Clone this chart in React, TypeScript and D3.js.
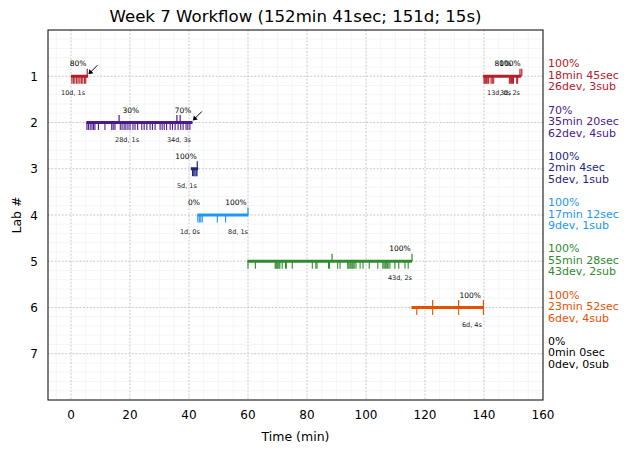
import * as d3 from "d3";

const labs = [1, 2, 3, 4, 5, 6, 7];
const labColors = ["#b3202a", "#4b1a8e", "#1f2680", "#2196f3", "#2e8b2e", "#e65100", "#000000"];

// [lab, start min, end min]
const segments: [number, number, number][] = [
  [1, 0, 5.8],
  [1, 139.7, 152.6],
  [2, 5.2, 41.2],
  [3, 40.6, 43.1],
  [4, 42.8, 60.1],
  [5, 59.8, 115.6],
  [6, 115.4, 140.0],
];

const devTicks: Record<number, number[]> = {
  1: [0.3, 0.8, 1.3, 1.9, 2.4, 3.0, 3.5, 4.0, 4.6, 5.0,
    140.0, 140.3, 140.6, 140.9, 141.3, 141.6, 142.4, 142.8, 143.3, 148.6, 148.9, 149.3, 149.7, 150.0, 151.1, 151.4],
  2: [5.4, 5.9, 6.5, 7.1, 7.6, 8.1, 9.3, 11.5, 13.8, 14.3, 14.9, 16.7, 17.3, 18.0, 18.6, 19.3, 20.0, 21.0, 21.7, 22.6,
    24.0, 24.8, 25.7, 26.8, 27.6, 28.5, 30.2, 30.9, 31.6, 32.4, 33.6, 34.4, 35.3, 36.3, 37.2, 38.0, 39.0, 39.6, 40.3],
  3: [41.2, 41.6, 42.0, 42.4, 42.7],
  4: [43.0, 43.5, 44.0, 44.5, 49.6, 52.4],
  5: [60.0, 62.5, 69.2, 69.5, 69.8, 70.1, 70.5, 70.8, 71.6, 72.7, 73.0, 75.0, 81.8, 83.0, 83.4, 87.3, 87.6, 90.4, 91.2,
    93.8, 94.2, 94.6, 94.9, 95.3, 95.6, 96.0, 96.6, 98.0, 99.0, 101.1, 104.0, 105.7, 106.1, 106.5, 106.8, 107.2, 107.5,
    108.1, 109.8, 111.1, 113.2, 114.3],
  6: [117.2, 122.6, 131.4, 139.8],
};

const subTicks: Record<number, number[]> = {
  1: [5.5, 152.2, 152.8],
  2: [16.3, 35.9, 37.0],
  3: [42.8],
  4: [60.0],
  5: [88.5, 115.6],
  6: [122.6, 131.4, 139.8],
};

// [lab, min, text]
const pctNotes: [number, number, string][] = [
  [1, 2.4, "80%"], [1, 146.4, "80%"], [1, 148.8, "100%"],
  [2, 20.3, "30%"], [2, 38.0, "70%"],
  [3, 39.0, "100%"],
  [4, 41.7, "0%"], [4, 55.9, "100%"],
  [5, 111.5, "100%"],
  [6, 135.3, "100%"],
];

const countNotes: [number, number, string][] = [
  [1, 0.7, "10d, 1s"], [1, 145.1, "13d, 0s"], [1, 148.8, "3d, 2s"],
  [2, 19.0, "28d, 1s"], [2, 36.6, "34d, 3s"],
  [3, 39.3, "5d, 1s"],
  [4, 40.3, "1d, 0s"], [4, 56.6, "8d, 1s"],
  [5, 111.5, "43d, 2s"],
  [6, 135.9, "6d, 4s"],
];

const arrows: [number, number][] = [[1, 5.9], [2, 41.3]];

const summaryPct = ["100%", "70%", "100%", "100%", "100%", "100%", "0%"];
const summaryTime = ["18min 45sec", "35min 20sec", "2min 4sec", "17min 12sec", "55min 28sec", "23min 52sec", "0min 0sec"];
const summaryCount = ["26dev, 3sub", "62dev, 4sub", "5dev, 1sub", "9dev, 1sub", "43dev, 2sub", "6dev, 4sub", "0dev, 0sub"];

const xTicks = [0, 20, 40, 60, 80, 100, 120, 140, 160];

const W = 630, H = 453;
const L = 48, R = 543, T = 30, B = 400;
const font = "DejaVu Sans, sans-serif";

export default function App() {
  const x = d3.scaleLinear().domain([-7.8, 160]).range([L, R]);
  const y = d3.scaleLinear().domain([0, 8]).range([T, B]);
  const xMinor = d3.range(-5, 161, 5).filter((v) => x(v) > L && x(v) < R);
  const yMinor = d3.range(0.2, 8, 0.2);
  const col = (lab: number) => labColors[lab - 1];

  return (
    <div style={{ position: "absolute", left: 0, top: 0 }}>
      <svg width={W} height={H} style={{ display: "block", fontFamily: font }}>
        <rect width={W} height={H} fill="#fff" />
        <text x={(L + R) / 2} y={22} textAnchor="middle" fontSize={16.6}>
          Week 7 Workflow (152min 41sec; 151d; 15s)
        </text>
        {/* minor grid */}
        {xMinor.map((v) => (
          <line key={"xm" + v} x1={x(v)} x2={x(v)} y1={T} y2={B} stroke="#eee" strokeWidth={0.6} />
        ))}
        {yMinor.map((v, i) => (
          <line key={"ym" + i} x1={L} x2={R} y1={y(v)} y2={y(v)} stroke="#eee" strokeWidth={0.6} />
        ))}
        {/* major grid */}
        {xTicks.filter((v) => v < 160).map((v) => (
          <line key={"xg" + v} x1={x(v)} x2={x(v)} y1={T} y2={B} stroke="#bbb" strokeWidth={0.8} strokeDasharray="1.5,2" />
        ))}
        {labs.map((v) => (
          <line key={"yg" + v} x1={L} x2={R} y1={y(v)} y2={y(v)} stroke="#bbb" strokeWidth={0.8} strokeDasharray="1.5,2" />
        ))}
        {/* segments */}
        {segments.map(([lab, s, e], i) => (
          <line key={"seg" + i} x1={x(s)} x2={x(e)} y1={y(lab)} y2={y(lab)} stroke={col(lab)} strokeWidth={3} />
        ))}
        {Object.entries(devTicks).map(([lab, ts]) =>
          ts.map((t, i) => (
            <line key={"d" + lab + i} x1={x(t)} x2={x(t)} y1={y(+lab)} y2={y(+lab + 0.16)} stroke={col(+lab)} strokeWidth={1.1} />
          ))
        )}
        {Object.entries(subTicks).map(([lab, ts]) =>
          ts.map((t, i) => (
            <line key={"s" + lab + i} x1={x(t)} x2={x(t)} y1={y(+lab)} y2={y(+lab - 0.16)} stroke={col(+lab)} strokeWidth={1.2} />
          ))
        )}
        {pctNotes.map(([lab, t, txt], i) => (
          <text key={"p" + i} x={x(t)} y={y(lab) - 10} textAnchor="middle" fontSize={7.5} fill="#000">{txt}</text>
        ))}
        {countNotes.map(([lab, t, txt], i) => (
          <text key={"c" + i} x={x(t)} y={y(lab) + 19} textAnchor="middle" fontSize={6.5} fill="#222">{txt}</text>
        ))}
        {arrows.map(([lab, t], i) => {
          const x0 = x(t), y0 = y(lab) - 2;
          return (
            <g key={"a" + i}>
              <line x1={x0 + 9} y1={y0 - 9} x2={x0 + 2} y2={y0 - 2} stroke="#000" strokeWidth={1} />
              <path d={`M${x0},${y0} L${x0 + 1},${y0 - 5} L${x0 + 5},${y0 - 1} Z`} fill="#000" />
            </g>
          );
        })}
        {/* frame */}
        <rect x={L} y={T} width={R - L} height={B - T} fill="none" stroke="#000" strokeWidth={1} />
        {/* axes labels */}
        {xTicks.map((v) => (
          <text key={"xt" + v} x={x(v)} y={B + 19} textAnchor="middle" fontSize={12}>{v}</text>
        ))}
        {labs.map((v) => (
          <text key={"yt" + v} x={L - 10} y={y(v) + 4.5} textAnchor="end" fontSize={12}>{v}</text>
        ))}
        <text x={(L + R) / 2} y={B + 41} textAnchor="middle" fontSize={12.5}>Time (min)</text>
        <text transform={`translate(21,${(T + B) / 2}) rotate(-90)`} textAnchor="middle" fontSize={12.5}>Lab #</text>
        {/* summary on right */}
        {labs.map((lab, i) => (
          <text key={"sum" + lab} x={R + 5} y={y(lab)} fontSize={11} fill={col(lab)}>
            <tspan x={R + 5} dy={-9}>{summaryPct[i]}</tspan>
            <tspan x={R + 5} dy={11.5}>{summaryTime[i]}</tspan>
            <tspan x={R + 5} dy={11.5}>{summaryCount[i]}</tspan>
          </text>
        ))}
      </svg>
    </div>
  );
}
